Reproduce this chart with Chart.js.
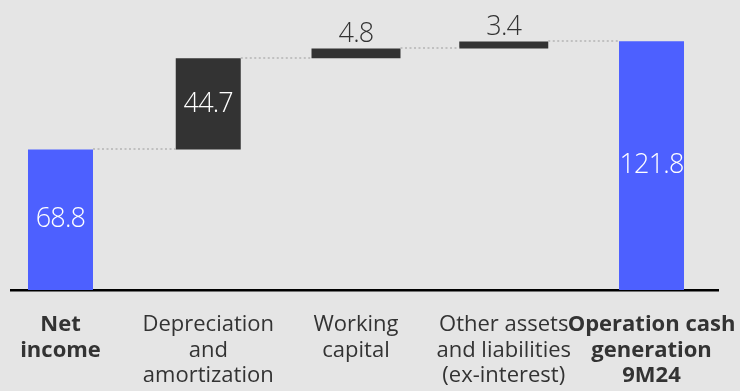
<!DOCTYPE html>
<html>
<head>
<meta charset="utf-8">
<script src="https://cdn.jsdelivr.net/npm/chart.js@4.4.1/dist/chart.umd.min.js"></script>
<style>
    html, body { margin: 0; padding: 0; background: #e5e5e5; }
    canvas { display: block; }
</style>
</head>
<body>
<canvas id="cashChart" width="740" height="391"></canvas>
<script>
// --- data ---
const categories = [
    ['Net', 'income'],
    ['Depreciation', 'and', 'amortization'],
    ['Working', 'capital'],
    ['Other assets', 'and liabilities', '(ex-interest)'],
    ['Operation cash', 'generation', '9M24']
];
const values = [68.8, 44.7, 4.8, 3.4, 121.8];
const isTotal = [true, false, false, false, true];
const boldLabels = [true, false, false, false, true];

// --- styles ---
const BLUE = '#4d60ff';
const DARK = '#333333';
const TEXT = '#333333';
const FONT = '"Open Sans", "Noto Sans", sans-serif';

// floating ranges for the waterfall
let running = 0;
const ranges = values.map((v, i) => {
    if (isTotal[i]) {
        running = v;
        return [0, v];
    }
    const r = [running, running + v];
    running += v;
    return r;
});

const groups = [
    { idx: [0, 4], color: BLUE, width: 65 },
    { idx: [1], color: DARK, width: 65 },
    { idx: [2, 3], color: DARK, width: 89 }
];

const datasets = groups.map(g => ({
    data: g.idx.map(i => ({ x: i, y: ranges[i] })),
    backgroundColor: g.color,
    maxBarThickness: g.width,
    grouped: false,
    borderWidth: 0
}));

const waterfallExtras = {
    id: 'waterfallExtras',
    afterDatasetsDraw(chart) {
        const ctx = chart.ctx;
        const yScale = chart.scales.y;
        const els = [];
        chart.data.datasets.forEach((ds, d) => {
            chart.getDatasetMeta(d).data.forEach((el, j) => {
                els[ds.data[j].x] = el.getProps(['x', 'y', 'base', 'width'], true);
            });
        });

        // dotted connectors
        ctx.save();
        ctx.strokeStyle = '#b4b4b4';
        ctx.lineWidth = 1.5;
        ctx.setLineDash([2, 2.5]);
        for (let i = 0; i < els.length - 1; i++) {
            const a = els[i], b = els[i + 1];
            const py = Math.round(yScale.getPixelForValue(ranges[i][1]));
            ctx.beginPath();
            ctx.moveTo(a.x + a.width / 2, py);
            ctx.lineTo(b.x - b.width / 2, py);
            ctx.stroke();
        }
        ctx.restore();

        // value labels
        ctx.save();
        ctx.font = '300 27px ' + FONT;
        ctx.letterSpacing = '-0.8px';
        ctx.textAlign = 'center';
        els.forEach((el, i) => {
            const top = Math.min(el.y, el.base);
            const h = Math.abs(el.base - el.y);
            if (h > 40) {
                ctx.fillStyle = '#ffffff';
                ctx.textBaseline = 'middle';
                ctx.fillText(values[i].toFixed(1), el.x, top + h / 2);
            } else {
                ctx.fillStyle = TEXT;
                ctx.textBaseline = 'bottom';
                ctx.fillText(values[i].toFixed(1), el.x, top - 1);
            }
        });
        ctx.restore();
    }
};

new Chart(document.getElementById('cashChart').getContext('2d'), {
    type: 'bar',
    data: { datasets },
    options: {
        responsive: false,
        devicePixelRatio: 1,
        animation: false,
        layout: { padding: { left: 11, right: 22, top: 0, bottom: 0 } },
        plugins: {
            legend: { display: false },
            tooltip: { enabled: false }
        },
        scales: {
            x: {
                type: 'linear',
                offset: false,
                min: -0.335,
                max: 4.45,
                afterBuildTicks: (scale) => {
                    scale.ticks = categories.map((c, i) => ({ value: i }));
                },
                afterFit: (scale) => {
                    scale.paddingLeft = 0;
                    scale.paddingRight = 0;
                    scale.height = 101;
                },
                grid: { display: false, drawTicks: false },
                border: { display: true, color: '#000000', width: 2.5 },
                ticks: {
                    autoSkip: false,
                    maxRotation: 0,
                    padding: 22,
                    color: TEXT,
                    font: (c) => ({
                        family: FONT,
                        size: 22,
                        weight: boldLabels[c.index] ? 'bold' : 'normal',
                        lineHeight: 1.16
                    }),
                    callback: (value) => categories[value]
                }
            },
            y: {
                display: false,
                min: 0,
                max: 142
            }
        }
    },
    plugins: [waterfallExtras]
});
</script>
</body>
</html>
